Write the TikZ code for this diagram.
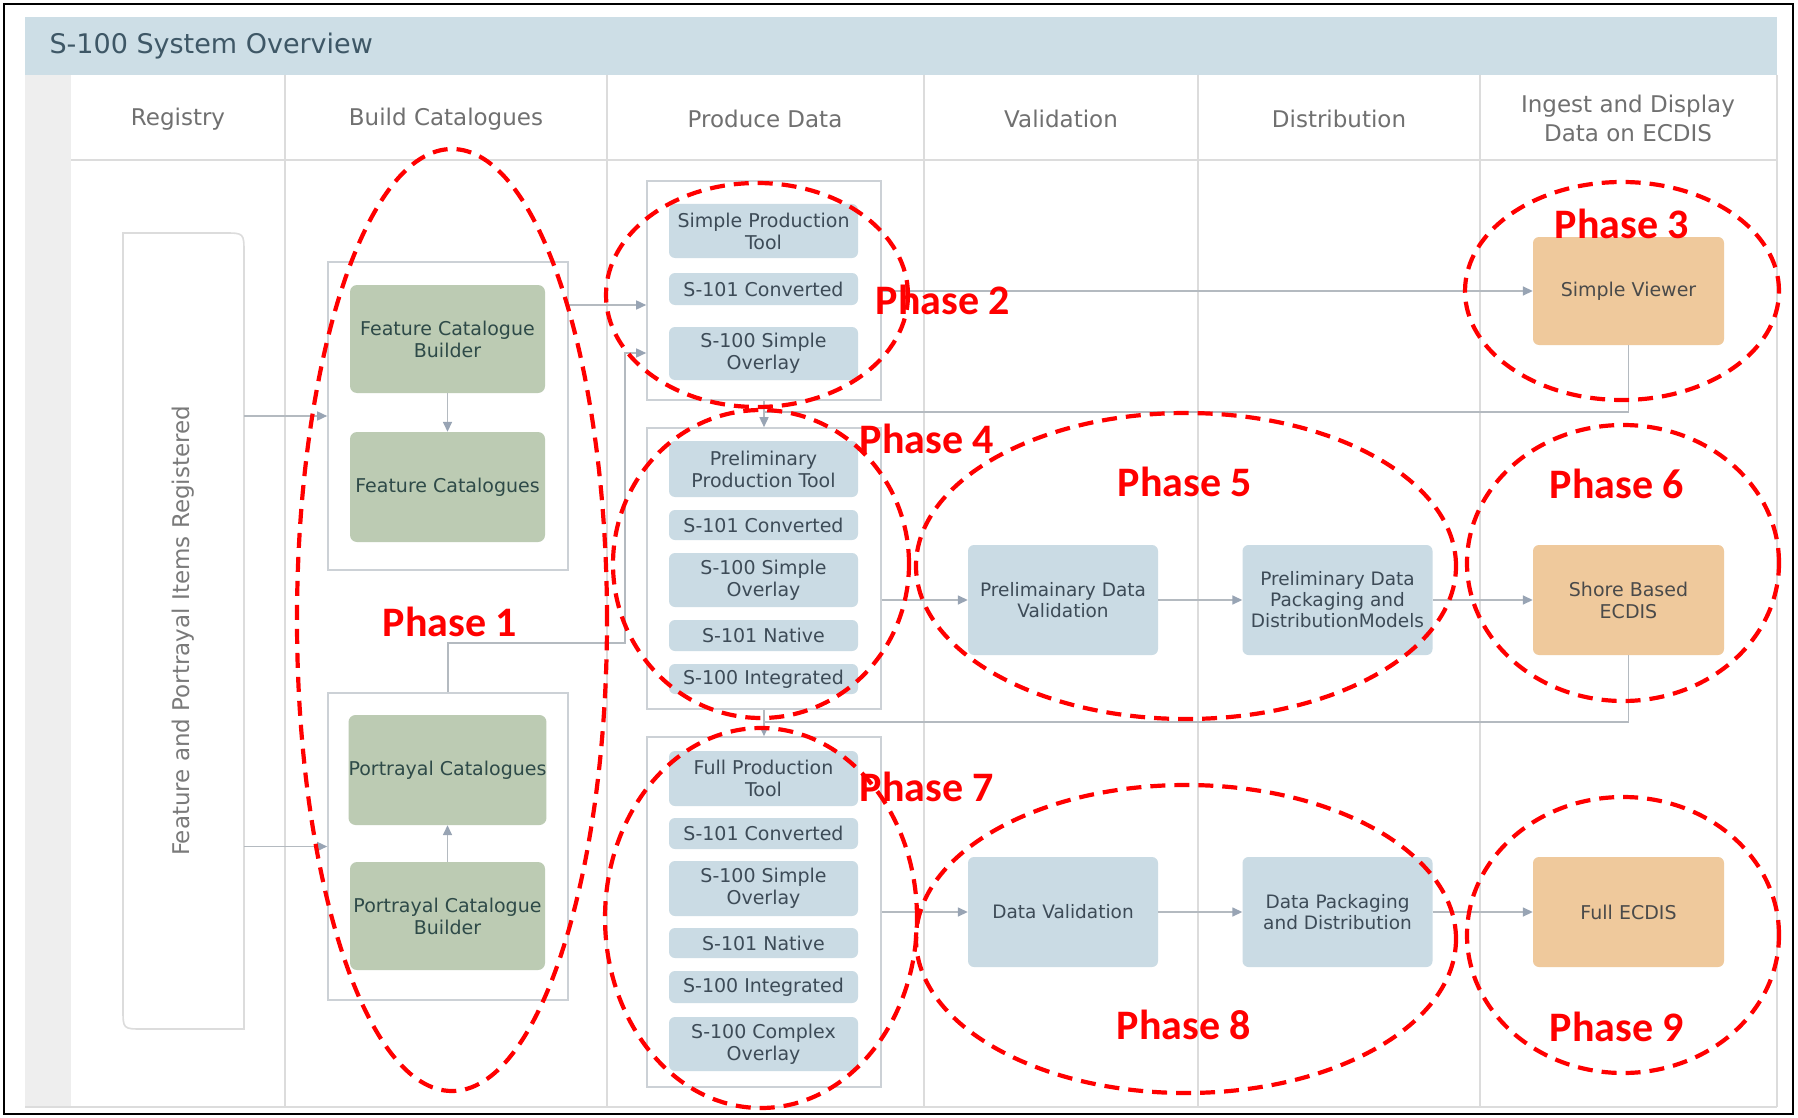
\documentclass[tikz,border=0pt]{standalone}
\usepackage{fontspec}
\setmainfont{DejaVu Sans}
\newfontfamily\phasefont{Carlito}
\usetikzlibrary{arrows.meta,shapes.geometric}
\definecolor{titleblue}{HTML}{CDDEE6}
\definecolor{titletext}{HTML}{3E5766}
\definecolor{stripgray}{HTML}{EEEEEE}
\definecolor{gridgray}{HTML}{DCDCDC}
\definecolor{headtext}{HTML}{707070}
\definecolor{regtext}{HTML}{7A7A7A}
\definecolor{grpborder}{HTML}{CCD1D6}
\definecolor{sage}{HTML}{BCCBB3}
\definecolor{greentext}{HTML}{2E4A48}
\definecolor{itemblue}{HTML}{CADBE4}
\definecolor{itemtext}{HTML}{3D4B57}
\definecolor{peach}{HTML}{EFC99C}
\definecolor{peachtext}{HTML}{4A4A4A}
\definecolor{conngray}{HTML}{B4BAC0}
\definecolor{tipgray}{HTML}{98A4B4}
\definecolor{phred}{HTML}{FF0000}
\tikzset{
  gridline/.style={draw=gridgray, line width=1.3pt},
  grp/.style={draw=grpborder, line width=1.6pt, fill=white, inner sep=0pt},
  gbox/.style={fill=sage, rounded corners=7pt, text=greentext, font={\fontsize{19}{22}\selectfont}, align=center, inner sep=0pt},
  item/.style={fill=itemblue, rounded corners=6pt, text=itemtext, font={\fontsize{19}{22}\selectfont}, align=center, inner sep=0pt, minimum width=189pt},
  bbox/.style={fill=itemblue, rounded corners=6pt, text=itemtext, font={\fontsize{18.5}{21}\selectfont}, align=center, inner sep=0pt, minimum width=190pt, minimum height=110pt},
  obox/.style={fill=peach, rounded corners=6pt, text=peachtext, font={\fontsize{19}{22}\selectfont}, align=center, inner sep=0pt, minimum width=191pt, minimum height=110pt},
  head/.style={text=headtext, font={\fontsize{23}{29}\selectfont}, align=center},
  conn/.style={draw=conngray, line width=1.5pt, -{Triangle[length=10pt,width=9pt,color=tipgray]}},
  link/.style={draw=conngray, line width=1.5pt},
  phase/.style={ellipse, draw=phred, line width=4.2pt, dash pattern=on 15pt off 9pt, inner sep=0pt},
  plabel/.style={text=phred, font={\phasefont\bfseries\fontsize{42}{42}\selectfont}}
}
\begin{document}
\begin{tikzpicture}[x=1pt,y=-1pt]
\useasboundingbox (0,0) rectangle (1798,1118);
\fill[white] (0,0) rectangle (1798,1118);
% frame and title
\fill[titleblue] (25,17) rectangle (1777,75);
\node[anchor=west, text=titletext, font={\fontsize{27}{30}\selectfont}] (title) at (46,46) {S-100 System Overview};
\fill[stripgray] (25,75) rectangle (71,1107);
% grid
\draw[gridline] (71,160) -- (1777,160);
\draw[gridline] (25,1107) -- (1777,1107);
\foreach \gx in {285,607,924,1198,1480,1777} {\draw[gridline] (\gx,75) -- (\gx,1107);}
% headers
\node[head] (h1) at (178,119) {Registry};
\node[head] (h2) at (446,119) {Build Catalogues};
\node[head] (h3) at (765,119) {Produce Data};
\node[head] (h4) at (1061,119) {Validation};
\node[head] (h5) at (1339,119) {Distribution};
\node[head] (h6) at (1628,118) {Ingest and Display\\Data on ECDIS};
% registry
\draw[draw=gridgray, line width=1.6pt, fill=white] (123,233) -- (224,233) .. controls (244,233) .. (244,253) -- (244,1029) -- (143,1029) .. controls (123,1029) .. (123,1009) -- cycle;
\node[minimum width=121pt, minimum height=796pt, inner sep=0pt] (reg) at (183.5,631) {\rotatebox{90}{\textcolor{regtext}{\fontsize{23}{26}\selectfont Feature and Portrayal Items Registered}}};
% catalogue groups
\node[grp, minimum width=240pt, minimum height=308pt] (fgroup) at (448,416) {};
\node[grp, minimum width=240pt, minimum height=307pt] (pgroup) at (448,846.5) {};
\node[gbox, minimum width=195pt, minimum height=108pt] (fcb) at (447.5,339) {Feature Catalogue\\Builder};
\node[gbox, minimum width=195pt, minimum height=110pt] (fc) at (447.5,487) {Feature Catalogues};
\node[gbox, minimum width=195pt, minimum height=110pt] (pc) at (447.5,770) {Portrayal Catalogues};
\node[gbox, minimum width=195pt, minimum height=108pt] (pcb) at (447.5,916) {Portrayal Catalogue\\Builder};
% produce data groups
\node[grp, minimum width=234pt, minimum height=219pt] (boxA) at (764,290.5) {};
\node[grp, minimum width=234pt, minimum height=281pt] (boxB) at (764,568.5) {};
\node[grp, minimum width=234pt, minimum height=350pt] (boxC) at (764,912) {};
\node[item, minimum height=54pt] (a1) at (763.5,231) {Simple Production\\Tool};
\node[item, minimum height=32pt] (a2) at (763.5,289) {S-101 Converted};
\node[item, minimum height=53pt] (a3) at (763.5,353.5) {S-100 Simple\\Overlay};
\node[item, minimum height=56pt] (b1) at (763.5,469) {Preliminary\\Production Tool};
\node[item, minimum height=30pt] (b2) at (763.5,525) {S-101 Converted};
\node[item, minimum height=54pt] (b3) at (763.5,580) {S-100 Simple\\Overlay};
\node[item, minimum height=31pt] (b4) at (763.5,635.5) {S-101 Native};
\node[item, minimum height=30pt] (b5) at (763.5,679) {S-100 Integrated};
\node[item, minimum height=55pt] (c1) at (763.5,778.5) {Full Production\\Tool};
\node[item, minimum height=31pt] (c2) at (763.5,833.5) {S-101 Converted};
\node[item, minimum height=55pt] (c3) at (763.5,888.5) {S-100 Simple\\Overlay};
\node[item, minimum height=30pt] (c4) at (763.5,943) {S-101 Native};
\node[item, minimum height=32pt] (c5) at (763.5,987) {S-100 Integrated};
\node[item, minimum height=54pt] (c6) at (763.5,1044) {S-100 Complex\\Overlay};
% validation / distribution / ecdis
\node[bbox] (pdv) at (1063,600) {Prelimainary Data\\Validation};
\node[bbox] (pdp) at (1337.5,600) {Preliminary Data\\Packaging and\\DistributionModels};
\node[bbox] (dv) at (1063,912) {Data Validation};
\node[bbox] (dp) at (1337.5,912) {Data Packaging\\and Distribution};
\node[obox, minimum height=108pt] (sv) at (1628.5,291) {Simple Viewer};
\node[obox] (sbe) at (1628.5,600) {Shore Based\\ECDIS};
\node[obox] (fe) at (1628.5,912) {Full ECDIS};
% connectors
\coordinate (fa) at (647,305);
\coordinate (pj) at (625,643);
\coordinate (pa) at (625,353);
\coordinate (j1) at (764,412);
\coordinate (j2) at (764,722);
\draw[conn] (reg.east |- fgroup.west) -- (fgroup.west);
\draw[conn] (reg.east |- pgroup.west) -- (pgroup.west);
\draw[conn] (fcb.south) -- (fc.north);
\draw[conn] (pcb.north) -- (pc.south);
\draw[conn] (fgroup.east |- fa) -- (boxA.west |- fa);
\draw[conn] (pgroup.north) -- (pgroup.north |- pj) -- (pj) -- (pa) -- (boxA.west |- pa);
\draw[conn] (boxA.south) -- (boxB.north);
\draw[conn] (boxB.south) -- (boxC.north);
\draw[link] (sv.south) -- (sv.south |- j1) -- (j1);
\draw[link] (sbe.south) -- (sbe.south |- j2) -- (j2);
\draw[conn] (boxA.east |- sv.west) -- (sv.west);
\draw[conn] (boxB.east |- pdv.west) -- (pdv.west);
\draw[conn] (pdv.east) -- (pdp.west);
\draw[conn] (pdp.east) -- (sbe.west);
\draw[conn] (boxC.east |- dv.west) -- (dv.west);
\draw[conn] (dv.east) -- (dp.west);
\draw[conn] (dp.east) -- (fe.west);
% phases
\node[phase, minimum width=310pt, minimum height=942pt] (e1) at (452,620) {};
\node[phase, minimum width=302pt, minimum height=224pt] (e2) at (757,295) {};
\node[phase, minimum width=314pt, minimum height=218pt] (e3) at (1622,291) {};
\node[phase, minimum width=296pt, minimum height=308pt] (e4) at (761,564) {};
\node[phase, minimum width=540pt, minimum height=306pt] (e5) at (1186,566) {};
\node[phase, minimum width=312pt, minimum height=276pt] (e6) at (1623,563) {};
\node[phase, minimum width=312pt, minimum height=380pt] (e7) at (761,918) {};
\node[phase, minimum width=540pt, minimum height=308pt] (e8) at (1186,939) {};
\node[phase, minimum width=312pt, minimum height=276pt] (e9) at (1623,935) {};
\node[plabel] (l1) at (450,622) {Phase 1};
\node[plabel] (l2) at (943,300) {Phase 2};
\node[plabel] (l3) at (1622,224) {Phase 3};
\node[plabel] (l4) at (927,439) {Phase 4};
\node[plabel] (l5) at (1185,482) {Phase 5};
\node[plabel] (l6) at (1617,484) {Phase 6};
\node[plabel] (l7) at (927,787) {Phase 7};
\node[plabel] (l8) at (1184,1025) {Phase 8};
\node[plabel] (l9) at (1617,1027) {Phase 9};
% outer frame
\draw[black, line width=2.5pt] (4,4) rectangle (1793,1114);
\end{tikzpicture}
\end{document}
